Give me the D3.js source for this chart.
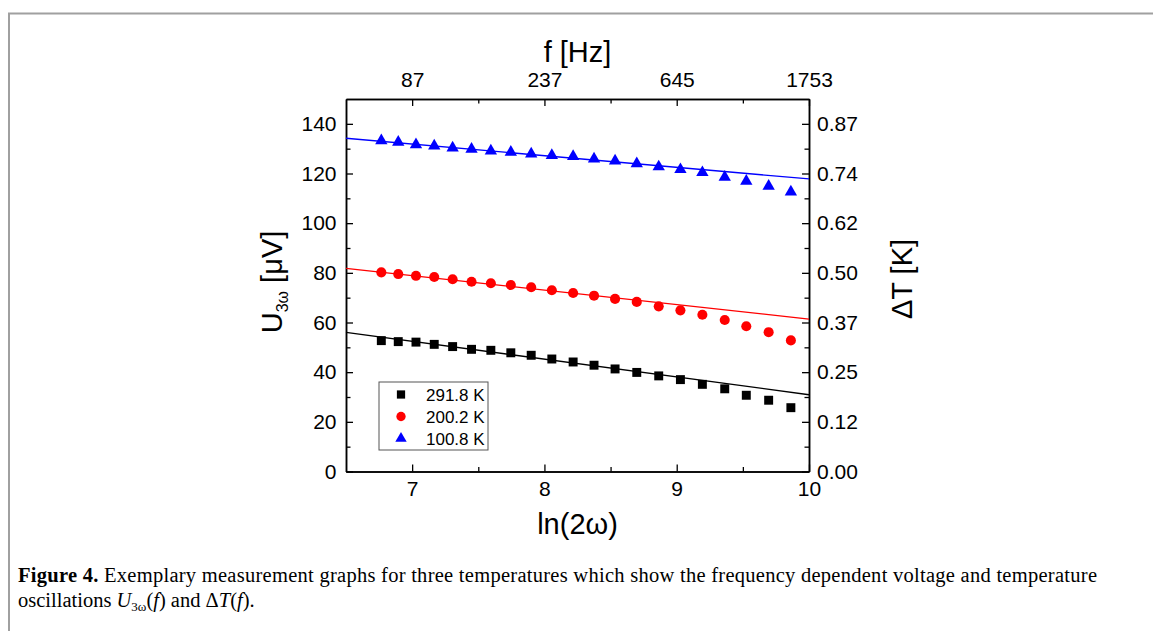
<!DOCTYPE html>
<html>
<head>
<meta charset="utf-8">
<script src="https://cdn.jsdelivr.net/npm/d3@7"></script>
<style>
  body { margin: 0; background: #fff; }
  svg { display: block; }
  .axis path, .axis line { stroke: #000; }
  .axis path { stroke-width: 1.5; }
  .axis line { stroke-width: 1.3; }
  .axis text { fill: #000; }
</style>
</head>
<body>
<svg id="chart" width="1153" height="631"></svg>
<script>
// ln(2ω) positions of the measured points
const lnOmega = [6.767, 6.895, 7.029, 7.167, 7.306, 7.449, 7.595, 7.746, 7.900, 8.056, 8.217,
  8.375, 8.534, 8.698, 8.864, 9.028, 9.194, 9.363, 9.526, 9.695, 9.863];

// U_3ω in µV for each temperature
const u291 = [52.7, 52.3, 52.1, 51.2, 50.3, 49.2, 48.8, 47.8, 46.8, 45.3, 44.1,
  42.8, 41.3, 39.9, 38.5, 37.0, 35.1, 33.3, 30.7, 28.7, 25.7];
const u200 = [80.2, 79.5, 78.8, 78.3, 77.4, 76.4, 75.8, 75.1, 74.2, 73.0, 71.9,
  70.8, 69.5, 68.3, 66.5, 64.9, 63.1, 61.0, 58.5, 56.1, 52.8];
const u100 = [133.2, 132.6, 131.6, 131.1, 130.3, 129.8, 129.1, 128.6, 127.9, 127.3, 126.9,
  125.9, 125.1, 124.0, 122.7, 121.6, 120.4, 118.5, 116.9, 114.9, 112.6];

const seriesNames = ['291.8 K', '200.2 K', '100.8 K'];
const seriesColors = ['#000000', '#ff0000', '#0000ff'];
const seriesSymbols = [d3.symbolSquare, d3.symbolCircle, d3.symbolTriangle];
// linear fits: value at left (6.5) and right (10) edge
const fitLeft = [56.0, 81.8, 134.2];
const fitRight = [30.9, 61.4, 117.8];

const bottomTicks = [7, 8, 9, 10];
const bottomMinor = [7.5, 8.5, 9.5];
const topTickLabels = ['87', '237', '645', '1753'];
const leftTicks = [0, 20, 40, 60, 80, 100, 120, 140];
const leftMinor = [10, 30, 50, 70, 90, 110, 130];
const rightTickLabels = ['0.00', '0.12', '0.25', '0.37', '0.50', '0.62', '0.74', '0.87'];

const sans = '"Liberation Sans", Arial, sans-serif';
const serif = '"Liberation Serif", "Times New Roman", serif';

const margin = { top: 99, left: 346 };
const innerWidth = 463;
const innerHeight = 372.5;

const svg = d3.select('#chart');

// figure border
svg.append('path')
  .attr('d', 'M9,631 V13.5 H1153')
  .attr('fill', 'none')
  .attr('stroke', '#a0a0a0')
  .attr('stroke-width', 2);

const g = svg.append('g')
  .attr('transform', `translate(${margin.left},${margin.top})`);

const xScale = d3.scaleLinear().domain([6.5, 10]).range([0, innerWidth]);
const yScale = d3.scaleLinear().domain([0, 150]).range([innerHeight, 0]);

const addAxis = (axis, tx, ty) => g.append('g')
  .attr('class', 'axis')
  .attr('transform', `translate(${tx},${ty})`)
  .call(axis)
  .attr('font-size', 21)
  .attr('font-family', sans);

// minor ticks
addAxis(d3.axisBottom(xScale).tickValues(bottomMinor).tickFormat('').tickSizeInner(-4.5).tickSizeOuter(0), 0, innerHeight);
addAxis(d3.axisTop(xScale).tickValues(bottomMinor).tickFormat('').tickSizeInner(-4.5).tickSizeOuter(0), 0, 0);
addAxis(d3.axisLeft(yScale).tickValues(leftMinor).tickFormat('').tickSizeInner(-4.5).tickSizeOuter(0), 0, 0);
addAxis(d3.axisRight(yScale).tickValues(leftMinor).tickFormat('').tickSizeInner(-4.5).tickSizeOuter(0), innerWidth, 0);

// major axes
addAxis(d3.axisBottom(xScale).tickValues(bottomTicks).tickFormat(d3.format('d'))
  .tickSizeInner(-7).tickSizeOuter(0).tickPadding(10), 0, innerHeight);
addAxis(d3.axisTop(xScale).tickValues(bottomTicks).tickFormat((d, i) => topTickLabels[i])
  .tickSizeInner(-7).tickSizeOuter(0).tickPadding(12), 0, 0);
addAxis(d3.axisLeft(yScale).tickValues(leftTicks).tickFormat(d3.format('d'))
  .tickSizeInner(-7).tickSizeOuter(0).tickPadding(9.5), 0, 0);
addAxis(d3.axisRight(yScale).tickValues(leftTicks).tickFormat((d, i) => rightTickLabels[i])
  .tickSizeInner(-7).tickSizeOuter(0).tickPadding(8), innerWidth, 0);

// fit lines
const seriesValues = [u291, u200, u100];
const plot = g.append('g');
seriesValues.forEach((vals, s) => {
  plot.append('line')
    .attr('x1', xScale(6.5)).attr('y1', yScale(fitLeft[s]))
    .attr('x2', xScale(10)).attr('y2', yScale(fitRight[s]))
    .attr('stroke', seriesColors[s])
    .attr('stroke-width', 1.3);
});

// markers
const symbolSizes = [80, 80, 66];
seriesValues.forEach((vals, s) => {
  plot.selectAll(null).data(vals)
    .enter().append('path')
      .attr('transform', (d, i) => `translate(${xScale(lnOmega[i])},${yScale(d)})`)
      .attr('d', d3.symbol().type(seriesSymbols[s]).size(symbolSizes[s]))
      .attr('fill', seriesColors[s]);
});

// legend
const legendG = g.append('g')
  .attr('transform', `translate(${379 - margin.left},${382 - margin.top})`)
  .attr('font-family', sans)
  .attr('font-size', 17);
legendG.append('rect')
  .attr('width', 109).attr('height', 68)
  .attr('fill', '#fff')
  .attr('stroke', '#555')
  .attr('stroke-width', 1);
seriesNames.forEach((name, s) => {
  const y = 12.5 + s * 22;
  legendG.append('path')
    .attr('transform', `translate(22,${y})`)
    .attr('d', d3.symbol().type(seriesSymbols[s]).size(symbolSizes[s] * 0.85))
    .attr('fill', seriesColors[s]);
  legendG.append('text')
    .attr('x', 47).attr('y', y)
    .attr('dy', '0.36em')
    .text(name);
});

// axis titles
const titles = svg.append('g')
  .attr('font-family', sans)
  .attr('font-size', 29);

titles.append('text')
  .attr('x', margin.left + innerWidth / 2).attr('y', 62)
  .attr('text-anchor', 'middle')
  .text('f [Hz]');

titles.append('text')
  .attr('x', margin.left + innerWidth / 2).attr('y', 534)
  .attr('text-anchor', 'middle')
  .text('ln(2ω)');

const yTitle = titles.append('text')
  .attr('transform', 'translate(282,282) rotate(-90)')
  .attr('text-anchor', 'middle');
yTitle.append('tspan').text('U');
yTitle.append('tspan').attr('font-size', 16).attr('dy', '6').text('3ω');
yTitle.append('tspan').attr('dy', '-6').text(' [μV]');

titles.append('text')
  .attr('transform', 'translate(912,279) rotate(-90)')
  .attr('text-anchor', 'middle')
  .text('ΔT [K]');

// caption
const caption = svg.append('g')
  .attr('font-family', serif)
  .attr('font-size', 20.5);

const cap1 = caption.append('text')
  .attr('x', 18).attr('y', 582)
  .attr('textLength', 1079);
cap1.append('tspan').attr('font-weight', 'bold').text('Figure 4.');
cap1.append('tspan').text(' Exemplary measurement graphs for three temperatures which show the frequency dependent voltage and temperature');

const cap2 = caption.append('text')
  .attr('x', 18).attr('y', 607);
cap2.append('tspan').text('oscillations ');
cap2.append('tspan').attr('font-style', 'italic').text('U');
cap2.append('tspan').attr('font-size', 13).attr('dy', '4').text('3ω');
cap2.append('tspan').attr('dy', '-4').text('(');
cap2.append('tspan').attr('font-style', 'italic').text('f');
cap2.append('tspan').text(') and Δ');
cap2.append('tspan').attr('font-style', 'italic').text('T');
cap2.append('tspan').text('(');
cap2.append('tspan').attr('font-style', 'italic').text('f');
cap2.append('tspan').text(').');
</script>
</body>
</html>
